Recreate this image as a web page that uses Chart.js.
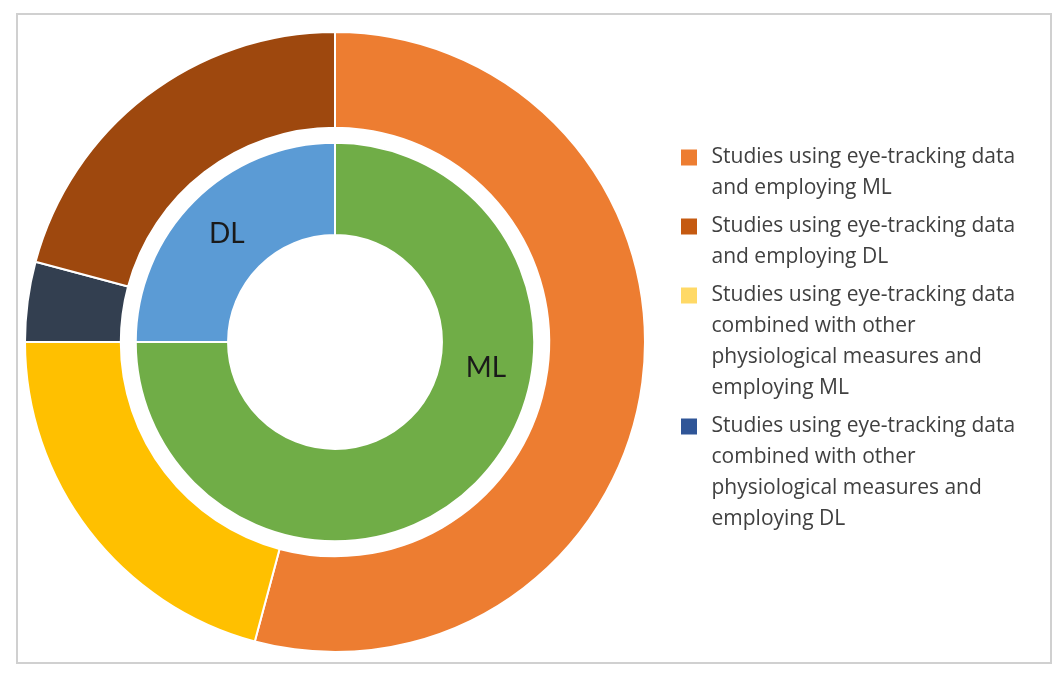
<!DOCTYPE html>
<html>
<head>
<meta charset="utf-8">
<script src="https://cdn.jsdelivr.net/npm/chart.js@4.4.0/dist/chart.umd.min.js"></script>
<style>
  html, body { margin: 0; padding: 0; background: #fff; }
  canvas { display: block; }
</style>
</head>
<body>
<canvas id="studies-chart" width="1063" height="679"></canvas>
<script>
// Outer ring: number of studies per group (clockwise from the top)
const outerLabels = [
    'Studies using eye-tracking data and employing ML',
    'Studies using eye-tracking data combined with other physiological measures and employing ML',
    'Studies using eye-tracking data combined with other physiological measures and employing DL',
    'Studies using eye-tracking data and employing DL'
];
const outerValues = [13, 5, 1, 5];
const outerColors = ['#ED7D31', '#FFC000', '#333F50', '#9E480E'];

// Inner ring: ML vs DL
const innerLabels = ['ML', 'DL'];
const innerValues = [18, 6];
const innerColors = ['#70AD47', '#5B9BD5'];

// Legend entries (order and colours as shown in the legend)
const legendLines = [
    ['Studies using eye-tracking data', 'and employing ML'],
    ['Studies using eye-tracking data', 'and employing DL'],
    ['Studies using eye-tracking data', 'combined with other', 'physiological measures and', 'employing ML'],
    ['Studies using eye-tracking data', 'combined with other', 'physiological measures and', 'employing DL']
];
const legendColors = ['#ED7D31', '#C55A11', '#FFD966', '#2F5597'];

// Frame around the whole chart
const framePlugin = {
    id: 'frame',
    beforeDraw(chart) {
        const ctx = chart.ctx;
        ctx.save();
        ctx.strokeStyle = '#D0D0D0';
        ctx.lineWidth = 2;
        ctx.strokeRect(17, 14, 1034, 649);
        ctx.restore();
    }
};

// Fixed legend width so the legend column starts where it does in the original
const legendWidthPlugin = {
    id: 'legendWidth',
    afterInit(chart, args, opts) {
        const legend = chart.legend;
        const fit = legend.fit;
        legend.fit = function() {
            fit.call(this);
            this.width = opts.width;
        };
    }
};

// ML / DL labels on the inner ring
const ringLabelPlugin = {
    id: 'ringLabels',
    afterDatasetsDraw(chart, args, opts) {
        const meta = chart.getDatasetMeta(opts.datasetIndex);
        const ctx = chart.ctx;
        ctx.save();
        ctx.font = '28px Lato';
        ctx.fillStyle = '#1A1A1A';
        ctx.textAlign = 'center';
        ctx.textBaseline = 'middle';
        meta.data.forEach(function(arc, i) {
            const p = arc.getProps(['x', 'y', 'startAngle', 'endAngle', 'innerRadius', 'outerRadius'], true);
            const a = p.startAngle + (p.endAngle - p.startAngle) * opts.spots[i];
            const r = (p.innerRadius + p.outerRadius) / 2;
            ctx.fillText(innerLabels[i], p.x + Math.cos(a) * r, p.y + Math.sin(a) * r);
        });
        ctx.restore();
    }
};

const ctx = document.getElementById('studies-chart').getContext('2d');
new Chart(ctx, {
    type: 'doughnut',
    data: {
        labels: outerLabels,
        datasets: [{
            data: outerValues,
            backgroundColor: outerColors,
            borderColor: '#FFFFFF',
            borderWidth: 2,
            weight: 96
        }, {
            // empty ring used as the white gap between the two rings
            data: [1],
            backgroundColor: 'rgba(0,0,0,0)',
            borderWidth: 0,
            weight: 15
        }, {
            data: innerValues,
            backgroundColor: innerColors,
            borderColor: '#FFFFFF',
            borderWidth: 2,
            weight: 92.5
        }]
    },
    options: {
        responsive: false,
        animation: false,
        events: [],
        cutout: '34.5%',
        layout: {
            padding: { top: 31, bottom: 26, left: 0, right: 0 }
        },
        plugins: {
            tooltip: { enabled: false },
            ringLabels: { datasetIndex: 2, spots: [0.37, 0.5] },
            legendWidth: { width: 393 },
            legend: {
                position: 'right',
                align: 'center',
                labels: {
                    boxWidth: 24,
                    boxHeight: 24,
                    padding: 7,
                    color: '#404040',
                    font: { family: "'Open Sans'", size: 21, lineHeight: 31 / 21 },
                    generateLabels: function() {
                        return legendLines.map(function(lines, i) {
                            return {
                                text: lines,
                                fillStyle: legendColors[i],
                                strokeStyle: '#FFFFFF',
                                lineWidth: 8,
                                fontColor: '#404040',
                                hidden: false,
                                index: i
                            };
                        });
                    }
                }
            }
        }
    },
    plugins: [framePlugin, legendWidthPlugin, ringLabelPlugin]
});
</script>
</body>
</html>
